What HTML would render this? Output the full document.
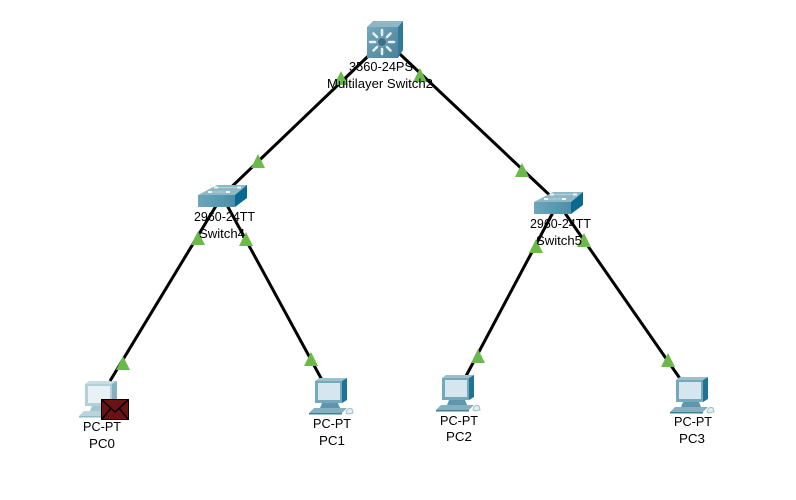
<!DOCTYPE html>
<html>
<head>
<meta charset="utf-8">
<style>
html,body{margin:0;padding:0;background:#fff}
svg{display:block}
text{font-family:"Liberation Sans",sans-serif;font-size:12.5px;fill:#000;text-anchor:middle}
</style>
</head>
<body>
<svg width="796" height="500" viewBox="0 0 796 500" xmlns="http://www.w3.org/2000/svg">
<defs>
<linearGradient id="swf" x1="0" y1="0" x2="1" y2="0"><stop offset="0" stop-color="#6da6ba"/><stop offset="1" stop-color="#4b8ea9"/></linearGradient>
<linearGradient id="mf" x1="0" y1="0" x2="1" y2="1"><stop offset="0" stop-color="#74a9bb"/><stop offset="1" stop-color="#4a8199"/></linearGradient>
<g id="sw">
<polygon points="198,195 217,185 247,185 235,195" fill="#8fb7c6"/>
<polygon points="198,195 235,195 235,207 198,207" fill="url(#swf)"/>
<polygon points="235,195 247,185 247,198 235,207" fill="#086a8e"/>
<g fill="#eef6f8">
<rect x="208" y="191" width="4" height="2"/><rect x="214" y="186.500" width="4" height="2"/>
<rect x="226" y="191" width="4" height="2"/><rect x="237" y="186.500" width="4" height="2"/>
</g>
<g stroke="#b5d2dc" stroke-width="1">
<line x1="212" y1="192" x2="226" y2="192"/><line x1="218" y1="187.500" x2="237" y2="187.500"/>
</g>
</g>
<g id="pc">
<polygon points="315,381 319,378 347,378 342,381" fill="#9dc0cd"/>
<polygon points="342,381 347,378 347,400 342,403" fill="#1f7394"/>
<rect x="315" y="381" width="27" height="22" fill="#76a8ba"/>
<rect x="318" y="383" width="22" height="17" fill="#d6e6ee"/>
<polygon points="322,403 338,403 340,408 320,408" fill="#5c97ad"/>
<polygon points="314,408 347,408 342,413 309,413" fill="#84b0c0"/>
<rect x="309" y="413" width="33" height="1.500" fill="#3f7f98"/>
<path d="M346,413 q1,-6 6,-4 l1,4 l-5,1z" fill="#e4eef1" stroke="#9dbcc8" stroke-width="1"/>
</g>
</defs>

<g stroke="#000" stroke-width="3" fill="none">
<line x1="385" y1="40" x2="222" y2="196"/>
<line x1="385" y1="40" x2="558" y2="203"/>
<line x1="222" y1="196" x2="110" y2="381"/>
<line x1="222" y1="196" x2="322" y2="380"/>
<line x1="558" y1="203" x2="465" y2="378"/>
<line x1="558" y1="203" x2="681" y2="380"/>
</g>

<!-- multilayer switch -->
<polygon points="367,27 373,21 403,21 398,27" fill="#8db7c6"/>
<rect x="367" y="27" width="31" height="31" fill="url(#mf)"/>
<polygon points="398,27 403,21 403,50 398,58" fill="#2f7a97"/>
<g stroke="#e4f0f4" stroke-width="2.500" stroke-linecap="round">
<line x1="382" y1="30" x2="382" y2="35"/><line x1="382" y1="49" x2="382" y2="54"/>
<line x1="370" y1="42" x2="375" y2="42"/><line x1="389" y1="42" x2="394" y2="42"/>
<line x1="373.500" y1="33.500" x2="377" y2="37"/><line x1="387" y1="47" x2="390.500" y2="50.500"/>
<line x1="390.500" y1="33.500" x2="387" y2="37"/><line x1="377" y1="47" x2="373.500" y2="50.500"/>
</g>
<circle cx="382" cy="42" r="4.500" fill="#3f6f85" stroke="#7fa9b8"/>

<use href="#sw"/>
<use href="#sw" transform="translate(336,7)"/>
<use href="#pc" opacity="0.55" transform="translate(-230,3)"/>
<use href="#pc"/>
<use href="#pc" transform="translate(127,-3)"/>
<use href="#pc" transform="translate(361,-1)"/>

<!-- envelope -->
<rect x="101.500" y="399.500" width="27" height="20" fill="#6b1214" stroke="#000"/>
<path d="M102,400 L115,412 L128,400 M102,419 L111,408 M128,419 L119,408" fill="none" stroke="#000" stroke-width="1.400"/>

<!-- link lights -->
<g fill="#6cb94b">
<polygon points="341,71 348,85 334,85"/>
<polygon points="420,68 427,82 413,82"/>
<polygon points="258,154 265,168 251,168"/>
<polygon points="522,163 529,177 515,177"/>
<polygon points="198,231 205,245 191,245"/>
<polygon points="246,232 253,246 239,246"/>
<polygon points="123,356 130,370 116,370"/>
<polygon points="311,352 318,366 304,366"/>
<polygon points="536,239 543,253 529,253"/>
<polygon points="584,233 591,247 577,247"/>
<polygon points="478,349 485,363 471,363"/>
<polygon points="668,353 675,367 661,367"/>
</g>

<text x="381" y="71" textLength="64" lengthAdjust="spacingAndGlyphs">3560-24PS</text>
<text x="380" y="88" textLength="106" lengthAdjust="spacingAndGlyphs">Multilayer Switch2</text>
<text x="224.500" y="221" textLength="61" lengthAdjust="spacingAndGlyphs">2960-24TT</text>
<text x="222" y="238" textLength="46" lengthAdjust="spacingAndGlyphs">Switch4</text>
<text x="560.500" y="228" textLength="61" lengthAdjust="spacingAndGlyphs">2960-24TT</text>
<text x="559" y="245" textLength="46" lengthAdjust="spacingAndGlyphs">Switch5</text>
<text x="102" y="431" textLength="38" lengthAdjust="spacingAndGlyphs">PC-PT</text>
<text x="102" y="448" textLength="26" lengthAdjust="spacingAndGlyphs">PC0</text>
<text x="332" y="428" textLength="38" lengthAdjust="spacingAndGlyphs">PC-PT</text>
<text x="332" y="445" textLength="26" lengthAdjust="spacingAndGlyphs">PC1</text>
<text x="459" y="425" textLength="38" lengthAdjust="spacingAndGlyphs">PC-PT</text>
<text x="459" y="441" textLength="26" lengthAdjust="spacingAndGlyphs">PC2</text>
<text x="693" y="426" textLength="38" lengthAdjust="spacingAndGlyphs">PC-PT</text>
<text x="692" y="443" textLength="26" lengthAdjust="spacingAndGlyphs">PC3</text>
</svg>
</body>
</html>
